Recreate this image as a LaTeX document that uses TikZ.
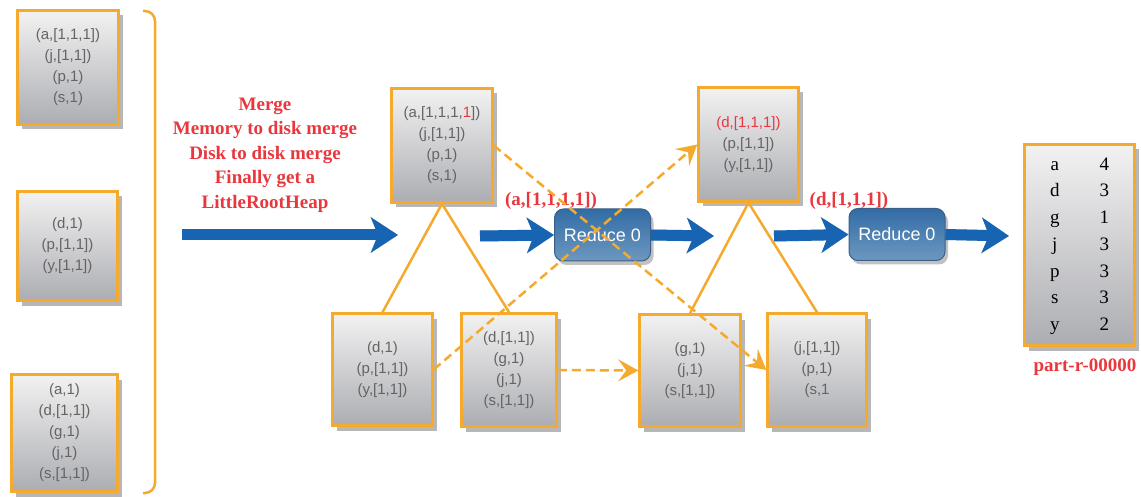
\documentclass[tikz,border=0pt]{standalone}
\usepackage{fontspec}
\setmainfont{Liberation Serif}
\setsansfont{Liberation Sans}
\usetikzlibrary{arrows.meta,shadows}
\definecolor{bord}{RGB}{245,170,45}
\definecolor{boxtop}{RGB}{242,242,242}
\definecolor{boxbot}{RGB}{172,173,178}
\definecolor{boxtxt}{RGB}{100,100,100}
\definecolor{redtxt}{RGB}{232,56,62}
\definecolor{arrblue}{RGB}{22,100,178}
\definecolor{redtop}{RGB}{50,108,165}
\definecolor{redbot}{RGB}{108,152,192}
\definecolor{redbord}{RGB}{60,95,135}
\begin{document}
\begin{tikzpicture}[x=1pt,y=-1pt,
  kv/.style={draw=bord, line width=2.5pt, top color=boxtop, bottom color=boxbot,
    text=boxtxt, font=\sffamily\fontsize{15}{21}\selectfont, align=center, inner sep=0pt,
    drop shadow={shadow xshift=4pt, shadow yshift=-5pt, opacity=.35, fill=black!80}},
  reducebox/.style={draw=redbord, line width=1pt, rounded corners=9pt, top color=redtop,
    bottom color=redbot, text=white, font=\sffamily\fontsize{18}{20}\selectfont,
    minimum width=96pt, minimum height=52pt, inner sep=0pt,
    drop shadow={shadow xshift=3pt, shadow yshift=-4pt, opacity=.3, fill=black!80}},
  bigarrow/.style={draw=arrblue, line width=11pt, -{Stealth[length=27pt,width=35pt,inset=7pt]}},
  bigarrowshadow/.style={draw=black, opacity=.2, line width=11pt, -{Stealth[length=27pt,width=35pt,inset=7pt]}},
  dasharrow/.style={draw=bord, line width=2.5pt, dash pattern=on 9pt off 5pt, -{Stealth[length=20pt,width=22pt,inset=8pt]}},
  treeline/.style={draw=bord, line width=2.5pt},
  redlabel/.style={text=redtxt, font=\bfseries\fontsize{19}{24.5}\selectfont, align=center, inner sep=0pt},
]
\useasboundingbox (0,0) rectangle (1141,497);
\fill[white] (0,0) rectangle (1141,497);

% left boxes
\node[kv, minimum width=101pt, minimum height=114pt] (L1) at (68,67.5) {(a,[1,1,1])\\(j,[1,1])\\(p,1)\\(s,1)};
\node[kv, minimum width=100pt, minimum height=109pt] (L2) at (67.5,246) {(d,1)\\(p,[1,1])\\(y,[1,1])};
\node[kv, minimum width=106pt, minimum height=117pt] (L3) at (64.5,433) {(a,1)\\(d,[1,1])\\(g,1)\\(j,1)\\(s,[1,1])};

% bracket
\draw[bord, line width=2.5pt, rounded corners=10pt] (143,11) -- (155,11) -- (155,493) -- (143,493);

% merge text
\node[redlabel] (merge) at (265,155) {Merge\\Memory to disk merge\\Disk to disk merge\\Finally get a\\LittleRootHeap};

% middle boxes
\node[kv, minimum width=101pt, minimum height=114pt] (T1) at (442,145.5) {(a,[1,1,1,\textcolor{redtxt}{1}])\\(j,[1,1])\\(p,1)\\(s,1)};
\node[kv, minimum width=100pt, minimum height=114pt] (T2) at (748.5,144.5) {\textcolor{redtxt}{(d,[1,1,1])}\\(p,[1,1])\\(y,[1,1])};
\node[kv, minimum width=100pt, minimum height=112pt] (B1) at (382.5,369.5) {(d,1)\\(p,[1,1])\\(y,[1,1])};
\node[kv, minimum width=95pt, minimum height=113pt] (B2) at (509,370) {(d,[1,1])\\(g,1)\\(j,1)\\(s,[1,1])};
\node[kv, minimum width=101pt, minimum height=112pt] (B3) at (690,370.5) {(g,1)\\(j,1)\\(s,[1,1])};
\node[kv, minimum width=99pt, minimum height=113pt] (B4) at (817,370) {(j,[1,1])\\(p,1)\\(s,1};

% tree lines
\draw[treeline] (T1.south) -- (B1.north);
\draw[treeline] (T1.south) -- (B2.north);
\draw[treeline] (T2.south) -- (B3.north);
\draw[treeline] (T2.south) -- (B4.north);

% reduce boxes
\node[reducebox] (R1) at (602.5,235) {Reduce 0};
\node[reducebox] (R2) at (897,234.5) {Reduce 0};

% result box
\node[kv, minimum width=110pt, minimum height=201pt, text=black,
  font=\rmfamily\fontsize{19}{26.7}\selectfont] (RES) at (1079.5,245)
  {\begin{tabular}{@{}c@{\hspace{40pt}}c@{}}a&4\\d&3\\g&1\\j&3\\p&3\\s&3\\y&2\end{tabular}};
\node[redlabel] (part) at (1085,367) {part-r-00000};

% red labels
\node[redlabel] (lab1) at (551,201) {(a,[1,1,1,1])};
\node[redlabel] (lab2) at (849,201) {(d,[1,1,1])};

% blue arrows
\coordinate (a1s) at (182,235);
\coordinate (a1e) at (398,235);
\coordinate (a2s) at (480,236);
\coordinate (a3e) at (714,236);
\coordinate (a4s) at (774,236);
\coordinate (a5e) at (1009,236);
\begin{scope}[shift={(3,4)}]
\draw[bigarrowshadow] (a1s) -- (a1e);
\draw[bigarrowshadow] (a2s) -- (R1.west);
\draw[bigarrowshadow] (R1.east) -- (a3e);
\draw[bigarrowshadow] (a4s) -- (R2.west);
\draw[bigarrowshadow] (R2.east) -- (a5e);
\end{scope}
\draw[bigarrow] (a1s) -- (a1e);
\draw[bigarrow] (a2s) -- (R1.west);
\draw[bigarrow] (R1.east) -- (a3e);
\draw[bigarrow] (a4s) -- (R2.west);
\draw[bigarrow] (R2.east) -- (a5e);

% dashed arrows
\draw[dasharrow] (T1.east) -- (B4.west);
\draw[dasharrow] (B1.east) -- (T2.west);
\draw[dasharrow] (B2.east) -- (B3.west);
\end{tikzpicture}
\end{document}
